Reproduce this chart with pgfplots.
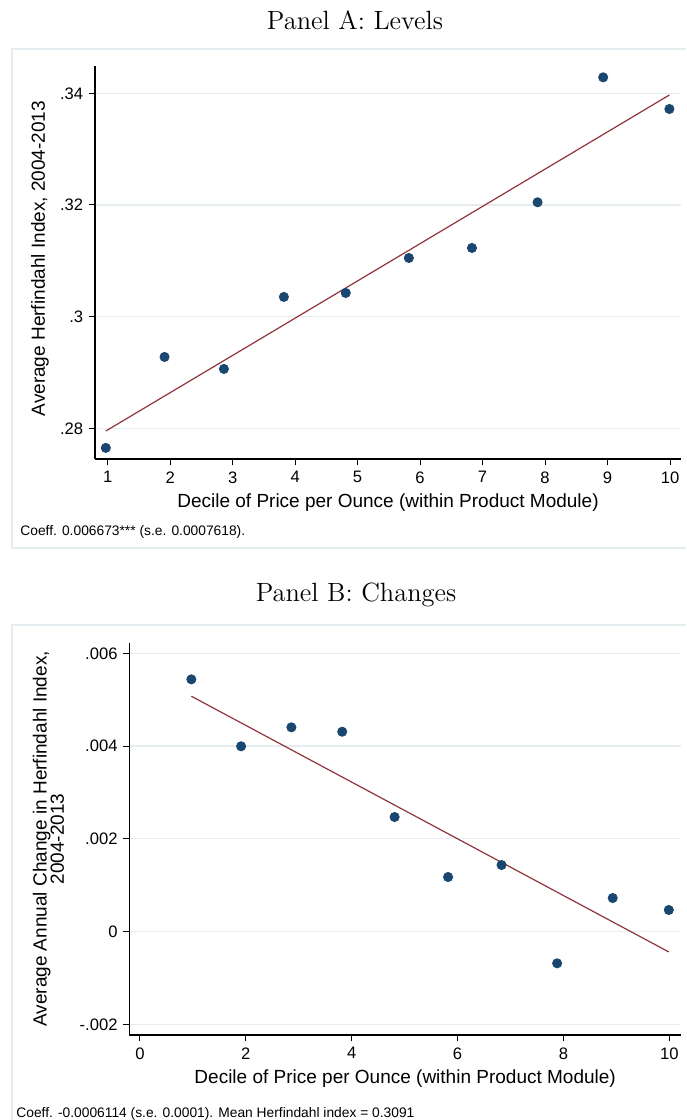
\documentclass[border=0pt]{standalone}
\usepackage{pgfplots}
\pgfplotsset{compat=1.18}
\usepackage{fontspec}
\newfontfamily\arial{Liberation Sans}
\definecolor{navyc}{RGB}{26,71,111}
\definecolor{maroonc}{RGB}{144,53,59}
\definecolor{gridc}{RGB}{230,237,240}
\definecolor{framec}{RGB}{228,236,239}

\pgfplotstableread{
x y
0.97 0.27649
1.91 0.29278
2.86 0.29063
3.82 0.30353
4.81 0.30424
5.82 0.31051
6.83 0.31230
7.88 0.32048
8.93 0.34286
9.99 0.33719
}\levels

\pgfplotstableread{
x y
0.97 0.005439
1.91 0.003995
2.86 0.004404
3.82 0.004310
4.81 0.002470
5.82 0.001176
6.83 0.001435
7.88 -0.000685
8.93 0.000723
9.99 0.000465
}\changes

\pgfplotsset{stata/.style={
  scale only axis,
  axis x line*=bottom, axis y line*=left,
  axis line style={black, line width=0.55pt},
  tick align=outside, major tick length=3.2pt,
  tick style={black, line width=0.5pt},
  minor tick num=0,
  scaled y ticks=false, scaled x ticks=false,
  ymajorgrids, major grid style={gridc, line width=0.6pt},
  ticklabel style={font=\arial\fontsize{8.3}{9}\selectfont},
  yticklabel style={inner sep=0pt, xshift=-2.5pt},
  xticklabel style={inner sep=0pt, yshift=-2.8pt},
  label style={font=\arial\fontsize{9.5}{8.7}\selectfont},
  xlabel style={at={(axis description cs:0.5,0)}, anchor=north, inner sep=0pt, yshift=-17.3pt},
  clip=false,
}}

\begin{document}
\begin{tikzpicture}[x=0.5pt,y=-0.5pt]
\useasboundingbox (0,0) rectangle (686,1120);
\fill[white] (0,0) rectangle (686,1120);

% frames
\draw[framec, line width=0.6pt] (686,49) -- (12,49) -- (12,548) -- (686,548);
\draw[framec, line width=0.6pt] (686,625) -- (12,625) -- (12,1120);

% titles
\node[anchor=base, inner sep=0pt, font=\fontsize{13.2}{15}\selectfont] at (355,29) {Panel A: Levels};
\node[anchor=base, inner sep=0pt, font=\fontsize{13.2}{15}\selectfont] at (356,601) {Panel B: Changes};

% Panel A
\begin{axis}[stata, at={(47.5pt,-229.5pt)}, anchor=south west,
  width=293pt, height=196.5pt,
  xmin=0.797, xmax=10.176, ymin=0.2745, ymax=0.34489,
  xtick={1,2,3,4,5,6,7,8,9,10}, xticklabels={1,2,3,4,5,6,7,8,9,10},
  ytick={0.28,0.30,0.32,0.34}, yticklabels={.28,.3,.32,.34},
  xlabel={Decile of Price per Ounce (within Product Module)},
  ylabel={Average Herfindahl Index, 2004-2013},
  ylabel style={at={(axis description cs:-0.0939,0.51)}, anchor=center},
]
\addplot[only marks, mark=*, mark size=2.3pt, mark options={draw=navyc, fill=navyc}] table[x=x,y=y] {\levels};
\addplot[maroonc, line width=0.6pt, no marks] coordinates {(0.97,0.27951) (9.99,0.33970)};
\end{axis}

% Panel B
\begin{axis}[stata, at={(64.65pt,-517.5pt)}, anchor=south west,
  width=275.85pt, height=196.15pt,
  xmin=-0.202, xmax=10.22, ymin=-0.002231, ymax=0.006229,
  xtick={0,2,4,6,8,10}, xticklabels={0,2,4,6,8,10},
  ytick={-0.002,0,0.002,0.004,0.006}, yticklabels={-.002,0,.002,.004,.006},
  xlabel={Decile of Price per Ounce (within Product Module)},
  ylabel={Average Annual Change in Herfindahl Index,\\2004-2013},
  ylabel style={at={(axis description cs:-0.1465,0.5)}, anchor=center, align=center},
]
\addplot[only marks, mark=*, mark size=2.3pt, mark options={draw=navyc, fill=navyc}] table[x=x,y=y] {\changes};
\addplot[maroonc, line width=0.6pt, no marks] coordinates {(0.97,0.005075) (9.99,-0.000440)};
\end{axis}

% notes
\node[anchor=base west, inner sep=0pt, font=\arial\fontsize{6.9}{8}\selectfont] at (20,535) {Coeff. 0.006673*** (s.e. 0.0007618).};
\node[anchor=base west, inner sep=0pt, font=\arial\fontsize{6.9}{8}\selectfont] at (16,1117) {Coeff. -0.0006114 (s.e. 0.0001). Mean Herfindahl index = 0.3091};
\end{tikzpicture}
\end{document}
